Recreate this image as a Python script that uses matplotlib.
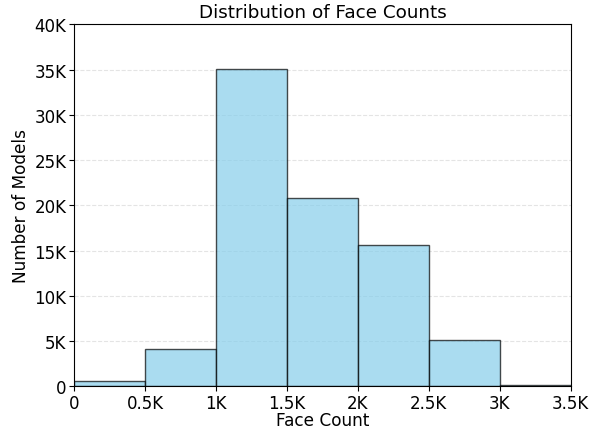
import matplotlib
matplotlib.use("Agg")
import matplotlib.pyplot as plt

bin_edges = [0, 500, 1000, 1500, 2000, 2500, 3000, 3500]
counts = [650, 4150, 35100, 20800, 15600, 5170, 200]
xtick_vals = [0, 500, 1000, 1500, 2000, 2500, 3000, 3500]
xtick_labels = ["0", "0.5K", "1K", "1.5K", "2K", "2.5K", "3K", "3.5K"]
ytick_vals = [0, 5000, 10000, 15000, 20000, 25000, 30000, 35000, 40000]
ytick_labels = ["0", "5K", "10K", "15K", "20K", "25K", "30K", "35K", "40K"]

fig, ax = plt.subplots(figsize=(5.97, 4.31), dpi=100)
ax.hist(bin_edges[:-1], bins=bin_edges, weights=counts, color="skyblue",
        alpha=0.7, edgecolor="black", linewidth=1, zorder=2)
ax.set_xlim(0, 3500)
ax.set_ylim(0, 40000)
ax.set_xticks(xtick_vals)
ax.set_xticklabels(xtick_labels)
ax.set_yticks(ytick_vals)
ax.set_yticklabels(ytick_labels)
ax.tick_params(labelsize=12, pad=2.2, length=3.3)
ax.grid(axis="y", linestyle="--", alpha=0.6, color="lightgray", zorder=0)
ax.set_axisbelow(True)
ax.set_title("Distribution of Face Counts", fontsize=13.2, pad=5)
ax.set_xlabel("Face Count", fontsize=12.2, labelpad=-0.5)
ax.set_ylabel("Number of Models", fontsize=12.2, labelpad=3)
fig.subplots_adjust(left=0.124, right=0.956, top=0.941, bottom=0.101)
fig.savefig("out.png", dpi=100)
